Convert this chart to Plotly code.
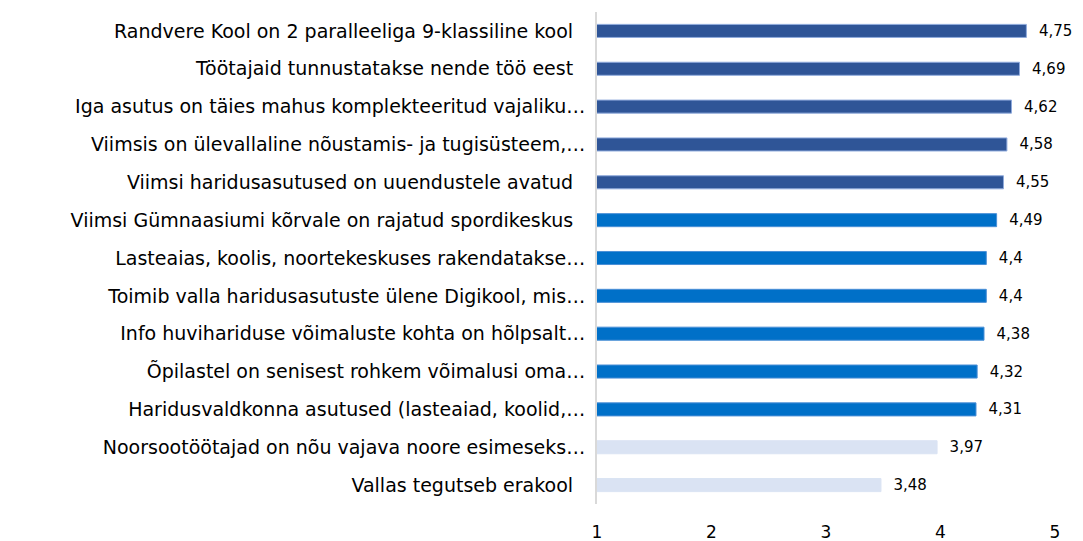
import plotly.graph_objects as go

NB = "\u00a0"
categories = [
    "Randvere Kool on 2 paralleeliga 9-klassiline kool" + NB + NB,
    "Töötajaid tunnustatakse nende töö eest" + NB + NB,
    "Iga asutus on täies mahus komplekteeritud vajaliku…",
    "Viimsis on ülevallaline nõustamis- ja tugisüsteem,…",
    "Viimsi haridusasutused on uuendustele avatud" + NB + NB,
    "Viimsi Gümnaasiumi kõrvale on rajatud spordikeskus" + NB + NB,
    "Lasteaias, koolis, noortekeskuses rakendatakse…",
    "Toimib valla haridusasutuste ülene Digikool, mis…",
    "Info huvihariduse võimaluste kohta on hõlpsalt…",
    "Õpilastel on senisest rohkem võimalusi oma…",
    "Haridusvaldkonna asutused (lasteaiad, koolid,…",
    "Noorsootöötajad on nõu vajava noore esimeseks…",
    "Vallas tegutseb erakool" + NB + NB,
]
values = [4.75, 4.69, 4.62, 4.58, 4.55, 4.49, 4.4, 4.4, 4.38, 4.32, 4.31, 3.97, 3.48]
groups = ["dark"] * 5 + ["mid"] * 6 + ["light"] * 2

fill = {"dark": "#2F5597", "mid": "#0070C8", "light": "#DAE3F3"}
edge = {"dark": "#8FAADC", "mid": "#4A8FD6", "light": "#DAE3F3"}

labels = [NB + NB + str(v).replace(".", ",") for v in values]

FONT = "DejaVu Sans"

fig = go.Figure(
    go.Bar(
        x=values,
        y=categories,
        orientation="h",
        marker=dict(
            color=[fill[g] for g in groups],
            line=dict(color=[edge[g] for g in groups], width=1),
        ),
        text=labels,
        textposition="outside",
        constraintext="none",
        textfont=dict(family=FONT, size=15, color="#000000"),
        cliponaxis=False,
        hoverinfo="skip",
    )
)

fig.update_layout(
    width=1075,
    height=533,
    margin=dict(l=589, r=28, t=4, b=37, autoexpand=False),
    paper_bgcolor="white",
    plot_bgcolor="white",
    bargap=0.655,
    showlegend=False,
    font=dict(family=FONT, size=17, color="#000000"),
    xaxis=dict(
        range=[1, 5],
        tickvals=[1, 2, 3, 4, 5],
        ticktext=["1", "2", "3", "4", "5"],
        showgrid=False,
        zeroline=False,
        showline=False,
        ticks="",
        automargin=False,
        ticklabelstandoff=16,
        tickfont=dict(size=17),
    ),
    yaxis=dict(
        autorange="reversed",
        showgrid=False,
        zeroline=False,
        showline=True,
        linecolor="#D9D9D9",
        linewidth=2,
        ticks="",
        automargin=False,
        ticklabelstandoff=6,
        tickfont=dict(size=19),
    ),
)

fig.write_html("out.html")
